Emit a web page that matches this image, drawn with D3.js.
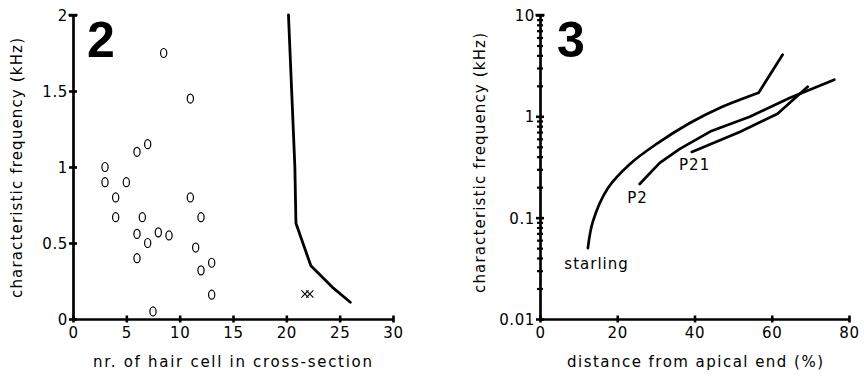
<!DOCTYPE html>
<html><head><meta charset="utf-8">
<script src="https://cdn.jsdelivr.net/npm/d3@7"></script>
<style>
body{margin:0;background:#fff}
svg{display:block}
text{font-family:"DejaVu Sans",sans-serif;fill:#000}
</style>
</head><body><svg id="c" width="864" height="376"></svg>
<script>
// ---- Panel 2 data ----
const hairCellX    = [8.5, 11, 3, 3, 5, 6, 7, 4, 11, 4, 6.5, 12, 6, 7, 8, 9, 6, 11.5, 12, 13, 13, 7.5];
const hairCellFreq = [1.75, 1.45, 1.0, 0.9, 0.9, 1.1, 1.15, 0.8, 0.8, 0.67, 0.67, 0.67, 0.56, 0.5, 0.57, 0.55, 0.4, 0.47, 0.32, 0.37, 0.16, 0.05];
const crossX    = [21.75, 22.2];
const crossFreq = [0.165, 0.165];
const limitX    = [20.2, 20.5, 20.8, 20.9, 22.3, 24.3, 26.0];
const limitFreq = [2.0, 1.5, 1.0, 0.63, 0.35, 0.21, 0.11];
const leftXTicks  = [0, 5, 10, 15, 20, 25, 30];
const leftYTicks  = [0, 0.5, 1, 1.5, 2];
const leftYLabels = ["0", "0.5", "1", "1.5", "2"];

// ---- Panel 3 data ----
const starlingDist = [12.4, 13.7, 17.6, 23.3, 30.2, 38.8, 46.5, 56.6, 62.8];
const starlingFreq = [0.05, 0.092, 0.196, 0.339, 0.535, 0.86, 1.21, 1.71, 4.06];
const p2Dist = [25.8, 31.0, 36.2, 44.4, 54.3, 64.6, 76.2];
const p2Freq = [0.215, 0.347, 0.477, 0.718, 0.99, 1.52, 2.30];
const p21Dist = [39.3, 51.7, 61.5, 69.3];
const p21Freq = [0.445, 0.70, 1.06, 1.96];
const rightXTicks  = [0, 20, 40, 60, 80];
const rightYTicks  = [0.01, 0.1, 1, 10];
const rightYLabels = ["0.01", "0.1", "1", "10"];
const seriesLabels = ["starling", "P2", "P21"];
const labelDist = [6.3, 22.6, 36.0];
const labelFreq = [0.031, 0.14, 0.295];

const svg = d3.select("#c");
const AX = 2.7;

// scales
const xL = d3.scaleLinear([0, 30], [73, 393]);
const yL = d3.scaleLinear([0, 2], [319, 15]);
const xR = d3.scaleLinear([0, 80], [540, 849]);
const yR = d3.scaleLog([0.01, 10], [319, 15]);

function styleAxis(g, horizontal) {
  g.select(".domain").attr("stroke", "#000").attr("stroke-width", AX);
  g.selectAll(".tick line").attr("stroke", "#000").attr("stroke-width", 2.6)
    .each(function () {
      const s = d3.select(this);
      if (horizontal) s.attr("y1", -3.5).attr("y2", 3.5);
      else s.attr("x1", -4).attr("x2", 4);
    });
  g.selectAll(".tick text").attr("font-size", 15).attr("letter-spacing", 0.6)
    .style("font-family", '"DejaVu Sans",sans-serif').attr("fill", "#000");
}

// ---- Left panel axes ----
const gxL = svg.append("g").attr("transform", `translate(0,${yL(0)})`)
  .call(d3.axisBottom(xL).tickValues(leftXTicks).tickSizeOuter(0).tickSizeInner(4).tickFormat(d3.format("d")));
styleAxis(gxL, true);
gxL.selectAll(".tick text").attr("y", 19).attr("dy", 0);

const gyL = svg.append("g").attr("transform", `translate(${xL(0)},0)`)
  .call(d3.axisLeft(yL).tickValues(leftYTicks).tickSizeOuter(0).tickSizeInner(4)
    .tickFormat((d, i) => leftYLabels[i]));
styleAxis(gyL, false);
gyL.selectAll(".tick text").attr("x", -5).attr("dy", "0.36em");
svg.append("line").attr("x1", xL(0) - 4.5).attr("x2", xL(0) + 4.5)
  .attr("y1", yL(2)).attr("y2", yL(2)).attr("stroke", "#000").attr("stroke-width", 2.4);

// ---- Left panel marks ----
const hc = hairCellX.map((x, i) => [x, hairCellFreq[i]]);
svg.append("g").selectAll("ellipse").data(hc).join("ellipse")
  .attr("cx", d => xL(d[0])).attr("cy", d => yL(d[1]))
  .attr("rx", 3.1).attr("ry", 4.5)
  .attr("fill", "none").attr("stroke", "#000").attr("stroke-width", 1.2);

const cr = crossX.map((x, i) => [x, crossFreq[i]]);
svg.append("g").selectAll("path").data(cr).join("path")
  .attr("d", d => {
    const cx = xL(d[0]), cy = yL(d[1]), s = 3.6;
    return `M${cx - s},${cy - s}L${cx + s},${cy + s}M${cx - s},${cy + s}L${cx + s},${cy - s}`;
  })
  .attr("stroke", "#000").attr("stroke-width", 1.1).attr("fill", "none");

const lineL = d3.line().x(d => xL(d[0])).y(d => yL(d[1]));
svg.append("path").datum(limitX.map((x, i) => [x, limitFreq[i]]))
  .attr("d", lineL).attr("fill", "none").attr("stroke", "#000")
  .attr("stroke-width", 2.8).attr("stroke-linejoin", "round").attr("stroke-linecap", "round");

// ---- Right panel axes ----
const gxR = svg.append("g").attr("transform", `translate(0,${yR(0.01)})`)
  .call(d3.axisBottom(xR).tickValues(rightXTicks).tickSizeOuter(0).tickSizeInner(4).tickFormat(d3.format("d")));
styleAxis(gxR, true);
gxR.selectAll(".tick text").attr("y", 19).attr("dy", 0);

const minorTicks = [];
[0.01, 0.1, 1].forEach(b => { for (let k = 2; k <= 9; k++) minorTicks.push(b * k); });
const gyRminor = svg.append("g").attr("transform", `translate(${xR(0)},0)`)
  .call(d3.axisLeft(yR).tickValues(minorTicks).tickSizeOuter(0).tickSizeInner(3).tickFormat(""));
gyRminor.select(".domain").remove();
gyRminor.selectAll(".tick line").attr("stroke", "#000").attr("stroke-width", 2.2).attr("x1", -3).attr("x2", 3);

const gyR = svg.append("g").attr("transform", `translate(${xR(0)},0)`)
  .call(d3.axisLeft(yR).tickValues(rightYTicks).tickSizeOuter(0).tickSizeInner(4)
    .tickFormat((d, i) => rightYLabels[i]));
styleAxis(gyR, false);
gyR.selectAll(".tick text").attr("x", -5).attr("dy", "0.36em");
svg.append("line").attr("x1", xR(0) - 4.5).attr("x2", xR(0) + 4.5)
  .attr("y1", yR(10)).attr("y2", yR(10)).attr("stroke", "#000").attr("stroke-width", 2.4);

// ---- Right panel lines ----
const lineR = d3.line().x(d => xR(d[0])).y(d => yR(d[1]));
const smoothR = d3.line().x(d => xR(d[0])).y(d => yR(d[1])).curve(d3.curveCatmullRom.alpha(0.5));
const series = [
  starlingDist.map((x, i) => [x, starlingFreq[i]]),
  p2Dist.map((x, i) => [x, p2Freq[i]]),
  p21Dist.map((x, i) => [x, p21Freq[i]])
];
svg.append("g").selectAll("path").data(series).join("path")
  .attr("d", (d, i) => i === 0 ? smoothR(d.slice(0, 8)) + lineR(d.slice(7)).replace("M", "L") : lineR(d))
  .attr("fill", "none").attr("stroke", "#000").attr("stroke-width", 2.7)
  .attr("stroke-linejoin", "round").attr("stroke-linecap", "round");

svg.append("g").selectAll("text").data(seriesLabels).join("text")
  .attr("x", (d, i) => xR(labelDist[i])).attr("y", (d, i) => yR(labelFreq[i]))
  .attr("font-size", 15).attr("letter-spacing", 1.0).text(d => d);

// ---- Panel numbers ----
svg.append("text").attr("x", 87).attr("y", 57).attr("font-size", 50)
  .style("font-family", '"Liberation Sans",Arial,sans-serif').attr("font-weight", "bold").text("2");
svg.append("text").attr("x", 557).attr("y", 57).attr("font-size", 50)
  .style("font-family", '"Liberation Sans",Arial,sans-serif').attr("font-weight", "bold").text("3");

// ---- Axis titles ----
function title(x, y, rot, txt, len) {
  svg.append("text").attr("transform", `translate(${x},${y}) rotate(${rot})`)
    .attr("text-anchor", "middle").attr("font-size", 15)
    .attr("textLength", len).attr("lengthAdjust", "spacing").text(txt);
}
title(232.5, 367, 0, "nr. of hair cell in cross-section", 279);
title(695, 367, 0, "distance from apical end (%)", 256);
title(22, 168, -90, "characteristic frequency (kHz)", 260);
title(485, 163, -90, "characteristic frequency (kHz)", 260);
</script>
</body></html>
